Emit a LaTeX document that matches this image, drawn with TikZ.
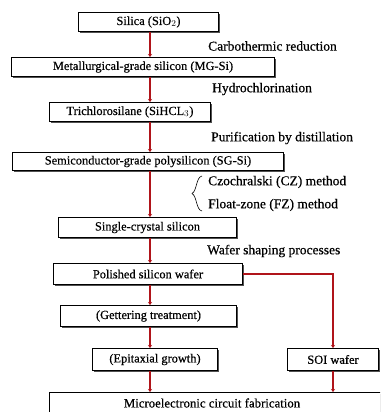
\documentclass[tikz,border=0pt]{standalone}
\usepackage{fontspec}
\setmainfont{Liberation Serif}[BoldFont={Liberation Serif},BoldFeatures={FakeBold=0.5}]
\usetikzlibrary{shadows,arrows.meta}
\definecolor{arr}{HTML}{B0141A}
\tikzset{
  box/.style={draw=black, line width=1pt, fill=white, inner sep=0pt, anchor=north west,
    drop shadow={shadow xshift=1.4pt, shadow yshift=-1.4pt, fill=black!80, opacity=0.85},
    font=\fontsize{12.4}{14}\selectfont\bfseries},
  lab/.style={anchor=west, inner sep=0pt, font=\fontsize{13.5}{15}\selectfont\bfseries},
  flow/.style={draw=arr, line width=1.8pt, -{Stealth[length=3pt,width=4pt]}},
}
\begin{document}
\begin{tikzpicture}[x=1pt,y=-1pt]
\useasboundingbox (0,0) rectangle (380,412);
\fill[white] (0,0) rectangle (380,412);
\begin{scope}
\clip (0,0) rectangle (380,412);
\node[box, minimum width=140pt, minimum height=19pt] (silica) at (78,12) {Silica (SiO$_2$)};
\node[box, minimum width=263pt, minimum height=19pt] (mg) at (11,57) {Metallurgical-grade silicon (MG-Si)};
\node[box, minimum width=161pt, minimum height=19pt] (tcs) at (49,102) {Trichlorosilane (SiHCL$_3$)};
\node[box, minimum width=271pt, minimum height=18pt] (sg) at (12,152) {Semiconductor-grade polysilicon (SG-Si)};
\node[box, minimum width=178pt, minimum height=20pt] (sc) at (58,217) {Single-crystal silicon};
\node[box, minimum width=189pt, minimum height=21pt] (pw) at (53,263) {Polished silicon wafer};
\node[box, minimum width=176pt, minimum height=21pt] (get) at (60,305) {(Gettering treatment)};
\node[box, minimum width=125pt, minimum height=22pt] (epi) at (92,348) {(Epitaxial growth)};
\node[box, minimum width=91pt, minimum height=22pt] (soi) at (287,348) {SOI wafer};
\node[box, minimum width=340pt, minimum height=30pt, anchor=north west] (mic) at (49,392) {};
\node[lab, font=\fontsize{12.8}{14}\selectfont\bfseries, anchor=center] (mict) at (212,403) {Microelectronic circuit fabrication};
\end{scope}

\node[lab] (l1) at (208,46) {Carbothermic reduction};
\node[lab] (l2) at (212,89) {Hydrochlorination};
\node[lab] (l3) at (211,138) {Purification by distillation};
\node[lab] (l4) at (208,182) {Czochralski (CZ) method};
\node[lab] (l5) at (208,205) {Float-zone (FZ) method};
\node[lab] (l6) at (207,251) {Wafer shaping processes};
\draw[line width=0.6pt] (202,176) .. controls (196,177) and (197,191) .. (192,193.5) .. controls (197,196) and (196,210) .. (202,211);

\coordinate (cx) at (150,0);
\draw[flow] (silica.south -| cx) -- (mg.north -| cx);
\draw[flow] (mg.south -| cx) -- (tcs.north -| cx);
\draw[flow] (tcs.south -| cx) -- (sg.north -| cx);
\draw[flow] (sg.south -| cx) -- (sc.north -| cx);
\draw[flow] (sc.south -| cx) -- (pw.north -| cx);
\draw[flow] (pw.south -| cx) -- (get.north -| cx);
\draw[flow] (get.south -| cx) -- (epi.north -| cx);
\draw[flow] (epi.south -| cx) -- (mic.north -| cx);
\coordinate (sx) at (333,0);
\draw[flow] (pw.east) -- (pw.east -| sx) -- (soi.north -| sx);
\draw[flow] (soi.south -| sx) -- (mic.north -| sx);
\end{tikzpicture}
\end{document}
